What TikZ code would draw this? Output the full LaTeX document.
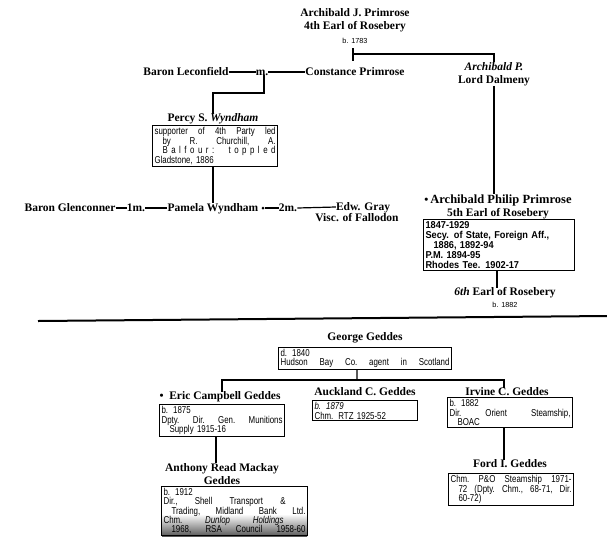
\documentclass[tikz,border=0pt]{standalone}
\usepackage{fontspec}
\setmainfont{Liberation Serif}
\setsansfont{Liberation Sans}
\newfontfamily\boxfont{Liberation Sans}[FakeStretch=0.79]
\newfontfamily\boxfontb{Liberation Sans}[FakeStretch=0.92]
\newcommand\jl[2]{\leavevmode\hbox to #1{#2}}
\begin{document}
\begin{tikzpicture}[x=1pt,y=-1pt,
  nm/.style={font=\fontsize{11.5}{13}\selectfont\bfseries, align=center, inner sep=0pt},
  bx/.style={draw, line width=1.1pt, inner xsep=2pt, inner ysep=1.5pt, align=left,
    font=\boxfont\fontsize{10}{9.8}\selectfont, anchor=north west},
  ln/.style={line width=1.2pt},
  sm/.style={font=\sffamily\fontsize{7.3}{8}\selectfont, inner sep=0pt}]
\useasboundingbox (0,0) rectangle (607,555);

% ---------- Rosebery / Wyndham ----------
\node[nm] (A4) at (355,20.5) {Archibald J. Primrose\\4th Earl of Rosebery};
\node[sm] (b1783) at (355,41) {b. 1783};
\coordinate (tk1) at (353,48);
\coordinate (tk2) at (353,61);
\coordinate (tk3) at (353,54);

\node[nm, anchor=base] (Lec) at (186,75) {Baron Leconfield};
\node[nm, anchor=base] (m1) at (262,75) {m.};
\node[nm, anchor=base] (Con) at (355,75) {Constance Primrose};
\node[nm] (ArchP) at (494,74) {\textit{Archibald P.}\\Lord Dalmeny};

\coordinate (k1) at (213,93);
\node[nm] (Percy) at (213,119) {Percy S. \textit{Wyndham}};
\node[bx, text width=121pt] (PercyBox) at (152,125) {%
  \jl{121pt}{supporter\hfill of\hfill 4th\hfill Party\hfill led}\\
  \jl{121pt}{\hskip8pt by\hfill R.\hfill Churchill,\hfill A.}\\
  \jl{121pt}{\hskip8pt\addfontfeature{LetterSpace=35}Balfour:\hfill toppled}\\
  Gladstone, 1886};

\node[nm, anchor=base] (Glen) at (70,211) {Baron Glenconner};
\node[nm, anchor=base] (m1a) at (136,211) {1m.};
\node[nm, anchor=base] (Pam) at (213,211) {Pamela Wyndham};
\node[circle, fill, inner sep=0pt, minimum size=3pt] (dot) at (263,208) {};
\node[nm, anchor=base] (m2) at (288,211) {2m.};
\node[nm, anchor=base] (Edw) at (363,210) {Edw. Gray};
\node[nm, anchor=base] (Visc) at (357,221) {Visc. of Fallodon};

\node[nm] (Ros5) at (498,206.5) {\textbullet\,{\fontsize{12.5}{13}\selectfont Archibald Philip Primrose}\\5th Earl of Rosebery};
\node[bx, text width=147pt, font=\boxfontb\bfseries\fontsize{10}{10.2}\selectfont] (Ros5Box) at (423,219) {1847-1929\\
  Secy. of State, Foreign Aff.,\\
  \hspace*{8pt}1886, 1892-94\\
  P.M. 1894-95\\
  Rhodes Tee. 1902-17};
\node[nm] (Ros6) at (505,293) {\textit{6th} Earl of Rosebery};
\node[sm] (b1882) at (505,305) {b. 1882};

\draw[ln] (tk1) -- (tk2);
\draw[ln] (tk3) -| (ArchP.north);
\draw[ln] ([yshift=3pt]Lec.base east) -- ([yshift=3pt]m1.base west);
\draw[ln] ([yshift=3pt]m1.base east) -- ([yshift=3pt]Con.base west);
\draw[ln] ([xshift=2pt]m1.south) |- (k1) -- (k1 |- Percy.north);
\draw[ln] ([xshift=-2pt]PercyBox.south) -- ([xshift=-2pt]PercyBox.south |- Pam.north);
\draw[ln] ([yshift=3pt]Glen.base east) -- ([yshift=3pt]m1a.base west);
\draw[ln] ([yshift=3pt]m1a.base east) -- ([yshift=3pt]Pam.base west);
\draw[ln] (dot) -- ([yshift=3pt]m2.base west);
\draw[ln] ([yshift=3pt]m2.base east) -- ([yshift=3pt]Edw.base west);
\draw[ln] (ArchP.south) -- (ArchP.south |- Ros5.north);
\draw[ln] ([xshift=-2pt]Ros5Box.south) -- ([xshift=-2pt]Ros5Box.south |- Ros6.north);

% ---------- divider ----------
\coordinate (rL) at (38,321);
\coordinate (rR) at (607,316);
\draw[line width=2pt] (rL) -- (rR);

% ---------- Geddes ----------
\node[nm] (Geo) at (365,338) {George Geddes};
\node[bx, text width=169pt, font=\boxfont\fontsize{10}{9.5}\selectfont] (GeoBox) at (278,347) {d. 1840\\
  \jl{169pt}{Hudson\hfill Bay\hfill Co.\hfill agent\hfill in\hfill Scotland}};
\coordinate (J) at (357,380);

\node[nm] (Eric) at (220,397) {\textbullet\ \ Eric Campbell Geddes};
\node[bx, text width=121pt] (EricBox) at (159,404) {b. 1875\\
  \jl{121pt}{Dpty.\hfill Dir.\hfill Gen.\hfill Munitions}\\
  \hspace*{8pt}Supply 1915-16};

\node[nm] (Auck) at (365,392) {Auckland C. Geddes};
\node[bx, text width=101pt] (AuckBox) at (312,400) {\textit{b. 1879}\\
  Chm. RTZ 1925-52};

\node[nm] (Irv) at (507,392) {Irvine C. Geddes};
\node[bx, text width=121pt] (IrvBox) at (447,397) {b. 1882\\
  \jl{121pt}{Dir.\hfill Orient\hfill Steamship,}\\
  \hspace*{8pt}BOAC};

\node[nm] (Anth) at (222,474) {Anthony Read Mackay\\Geddes};
\shade[top color=white, bottom color=black!65] (162,514) rectangle (307,536);
\node[bx, text width=142pt, font=\boxfont\fontsize{10}{9.4}\selectfont] (AnthBox) at (161,486) {b. 1912\\
  \jl{122pt}{Dir.,\hfill Shell\hfill Transport\hfill \&}\\
  \jl{142pt}{\hskip8pt Trading,\hfill Midland\hfill Bank\hfill Ltd.}\\
  \jl{120pt}{Chm.\hfill \textit{Dunlop}\hfill \textit{Holdings}}\\
  \jl{142pt}{\hskip8pt 1968,\hfill RSA\hfill Council\hfill 1958-60}};

\node[nm] (Ford) at (510,464) {Ford I. Geddes};
\node[bx, text width=121pt] (FordBox) at (448,473) {%
  \jl{121pt}{Chm.\hfill P\&O\hfill Steamship\hfill 1971-}\\
  \jl{121pt}{\hskip8pt 72\hfill (Dpty.\hfill Chm.,\hfill 68-71,\hfill Dir.}\\
  \hspace*{8pt}60-72)};

\draw[ln] ([xshift=-8pt]GeoBox.south) -- (J);
\draw[ln] ([xshift=2pt]Eric.north) |- (J) -| ([xshift=-3pt]Irv.north);
\draw[ln] ([xshift=-6pt]EricBox.south) -- ([xshift=-6pt]EricBox.south |- Anth.north);
\draw[ln] ([xshift=-6pt]IrvBox.south) -- ([xshift=-6pt]IrvBox.south |- Ford.north);
\end{tikzpicture}
\end{document}
